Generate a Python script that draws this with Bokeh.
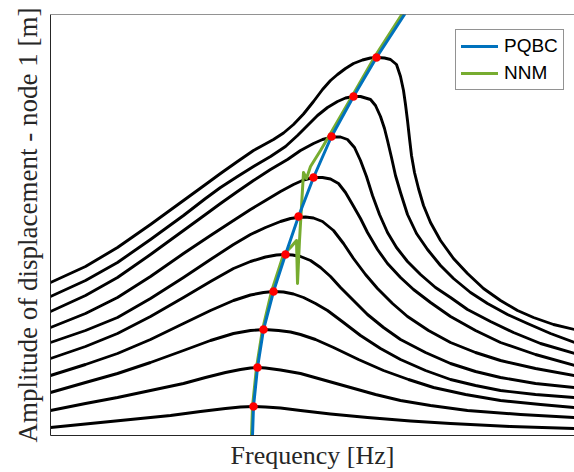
from bokeh.plotting import figure
from bokeh.models import Range1d, Span, Legend, LegendItem, FixedTicker
from bokeh.embed import file_html
from bokeh.resources import INLINE

# ---- data (frequency, amplitude) in arbitrary units ----
f1 = [50, 90, 130, 170, 200, 225, 240, 253, 265, 280, 300, 330, 367, 410, 450, 510, 574]
a1 = [8, 12, 16, 20, 24, 27, 28.5, 29, 28.5, 27.5, 25, 21.5, 18, 14.5, 12, 9, 7]

f2 = [50, 85, 117, 150, 183, 205, 225, 240, 250, 257, 265, 280, 300, 325, 350, 375, 400, 430, 467, 520, 574]
a2 = [25, 32, 38, 45, 52, 58, 63, 66, 67.5, 68, 67.5, 65.5, 62, 55, 48, 41, 35, 30, 25, 21, 18]

f3 = [50, 85, 117, 150, 183, 210, 233, 250, 264, 278, 290, 300, 315, 333, 358, 383, 408, 433, 465, 500, 540, 574]
a3 = [43, 53, 62, 73, 85, 95, 102, 105, 106, 105, 103.5, 101, 96, 88, 76, 65, 56, 48, 41, 35, 31, 28]

f4 = [50, 85, 117, 150, 183, 210, 233, 250, 263, 273, 283, 293, 303, 315, 327, 343, 360, 380, 400, 425, 450, 475, 500, 535, 574]
a4 = [60, 71, 82, 96, 112, 125, 135, 140.5, 143, 144, 143.5, 141.5, 138, 132, 125, 113, 100, 87, 76, 65, 56, 50, 45, 41, 38]

f5 = [50, 85, 117, 150, 183, 210, 233, 250, 265, 276, 284, 292, 300, 310, 320, 330, 340, 353, 367, 383, 400, 425, 450, 475, 500, 535, 574]
a5 = [77, 89, 102, 119, 138, 154, 167, 174, 178.5, 180.5, 181, 180.5, 179, 175, 168, 159, 148, 135, 121, 108, 96, 83, 72, 64, 58, 52, 48]

f6 = [50, 85, 117, 150, 183, 210, 233, 250, 265, 280, 290, 297, 305, 313, 322, 333, 343, 353, 365, 377, 392, 407, 428, 450, 475, 500, 535, 574]
a6 = [93, 105, 118, 137, 158, 176, 191, 201, 208, 214, 217, 218, 218.5, 217.5, 214, 205, 192, 177, 161, 147, 132, 119, 105, 93, 83, 75, 67, 60]

f7 = [50, 85, 117, 150, 183, 210, 233, 250, 265, 280, 293, 303, 313, 322, 330, 338, 345, 352, 360, 367, 377, 387, 400, 413, 430, 450, 475, 500, 535, 574]
a7 = [108, 122, 138, 159, 182, 200, 215, 226, 235, 244, 251, 255.5, 258, 258, 256.5, 252, 243, 231, 217, 203, 186, 172, 158, 146, 133, 119, 105, 93, 81, 70]

f8 = [50, 85, 117, 150, 183, 205, 220, 237, 253, 270, 287, 300, 313, 322, 332, 340, 347, 354, 360, 366, 372, 379, 387, 396, 407, 420, 435, 450, 467, 490, 513, 540, 574]
a8 = [124, 140, 158, 181, 205, 221, 232, 244, 255, 266, 276, 285, 292, 296, 298.5, 298.5, 296, 288, 275, 259, 240, 221, 203, 188, 174, 161, 148, 138, 126, 114, 103, 92, 82]

f9 = [50, 85, 117, 150, 183, 205, 220, 237, 253, 270, 285, 297, 307, 317, 327, 337, 345, 353, 360, 370, 375, 380, 384, 387, 391, 395, 400, 407, 416, 427, 440, 453, 470, 487, 507, 527, 550, 574]
a9 = [139, 155, 173, 196, 220, 237, 248, 259, 269, 279, 289, 300, 310, 320, 328, 334, 337.5, 339, 339, 336, 330, 319, 307, 295, 278, 260, 243, 221, 202, 186, 170, 157, 143, 132, 121, 112, 102, 93]

f10 = [50, 85, 117, 150, 183, 205, 220, 237, 253, 263, 273, 283, 293, 303, 313, 322, 330, 337, 345, 353, 362, 370, 377, 384, 390, 396, 400, 403, 405, 407, 409, 411, 414, 418, 423, 430, 440, 453, 467, 483, 500, 517, 533, 553, 574]
a10 = [153, 169, 188, 211, 235, 251, 262, 274, 285, 290.5, 296, 302.5, 311, 321.5, 334, 346, 355, 361, 367, 372, 375.5, 377.5, 378, 377.5, 376, 371, 359, 345, 331, 315, 297, 280, 263, 247, 230, 213, 195, 177, 162, 147, 135, 125, 118, 111, 106]

curves_f = [f1, f2, f3, f4, f5, f6, f7, f8, f9, f10]
curves_a = [a1, a2, a3, a4, a5, a6, a7, a8, a9, a10]

# backbone curve (PQBC)
pqbc_f = [252, 253, 257, 263, 273, 285, 298, 313, 331, 353, 376, 404]
pqbc_a = [0, 29, 68, 106, 144, 181, 219, 258, 299, 339, 378, 421]

# nonlinear normal mode (NNM)
nnm_f = [251, 252, 256, 262, 271, 283, 290, 296, 297, 299, 303, 306, 310, 320, 330, 352, 375, 402]
nnm_a = [0, 29, 68, 106, 144, 181, 188, 195, 152, 195, 263, 257, 269, 285, 302, 340, 380, 422]

# resonance peaks
peak_f = [253, 257, 263, 273, 285, 298, 313, 331, 353, 376]
peak_a = [29, 68, 106, 144, 181, 219, 258, 299, 339, 378]

AX = "#262626"

p = figure(width=574, height=472,
           x_range=Range1d(50, 574), y_range=Range1d(0, 421),
           output_backend="svg", toolbar_location=None,
           min_border_left=50, min_border_right=0,
           min_border_top=14, min_border_bottom=37)
p.grid.visible = False
p.outline_line_color = None
p.background_fill_color = "white"
p.border_fill_color = "white"

for ax in (p.xaxis[0], p.yaxis[0]):
    ax.ticker = FixedTicker(ticks=[])
    ax.major_tick_line_color = None
    ax.minor_tick_line_color = None
    ax.major_label_text_font_size = "0px"
    ax.major_label_standoff = 0
    ax.axis_line_color = AX
    ax.axis_line_width = 1
    ax.axis_label_text_font = "Liberation Serif"
    ax.axis_label_text_font_style = "normal"
    ax.axis_label_text_color = AX

p.xaxis.axis_label = "Frequency [Hz]"
p.xaxis.axis_label_text_font_size = "26px"
p.xaxis.axis_label_standoff = 5
p.yaxis.axis_label = "Amplitude of displacement - node 1 [m]"
p.yaxis.axis_label_text_font_size = "27px"
p.yaxis.axis_label_standoff = 8

p.add_layout(Span(location=421, dimension="width", line_color=AX, line_width=1))

for fx, ay in zip(curves_f, curves_a):
    p.line(fx, ay, line_color="black", line_width=2.9, line_join="round", line_cap="round")

g = p.line(nnm_f, nnm_a, line_color="#77AC30", line_width=3, line_join="round", line_cap="round")
b = p.line(pqbc_f, pqbc_a, line_color="#0072BD", line_width=3, line_join="round", line_cap="round")
p.scatter(peak_f, peak_a, size=8.5, fill_color="red", line_color=None)

legend = Legend(items=[LegendItem(label="PQBC", renderers=[b]),
                       LegendItem(label="NNM", renderers=[g])],
                location=(405, 345), orientation="vertical",
                border_line_color=AX, border_line_width=1,
                background_fill_color="white", background_fill_alpha=1,
                label_text_font="Liberation Sans", label_text_font_size="19px",
                label_text_color="black",
                glyph_width=37, glyph_height=14, label_height=14,
                label_standoff=6, padding=5, spacing=5, margin=0)
p.add_layout(legend, "center")

open("out.html", "w").write(file_html(p, INLINE))
